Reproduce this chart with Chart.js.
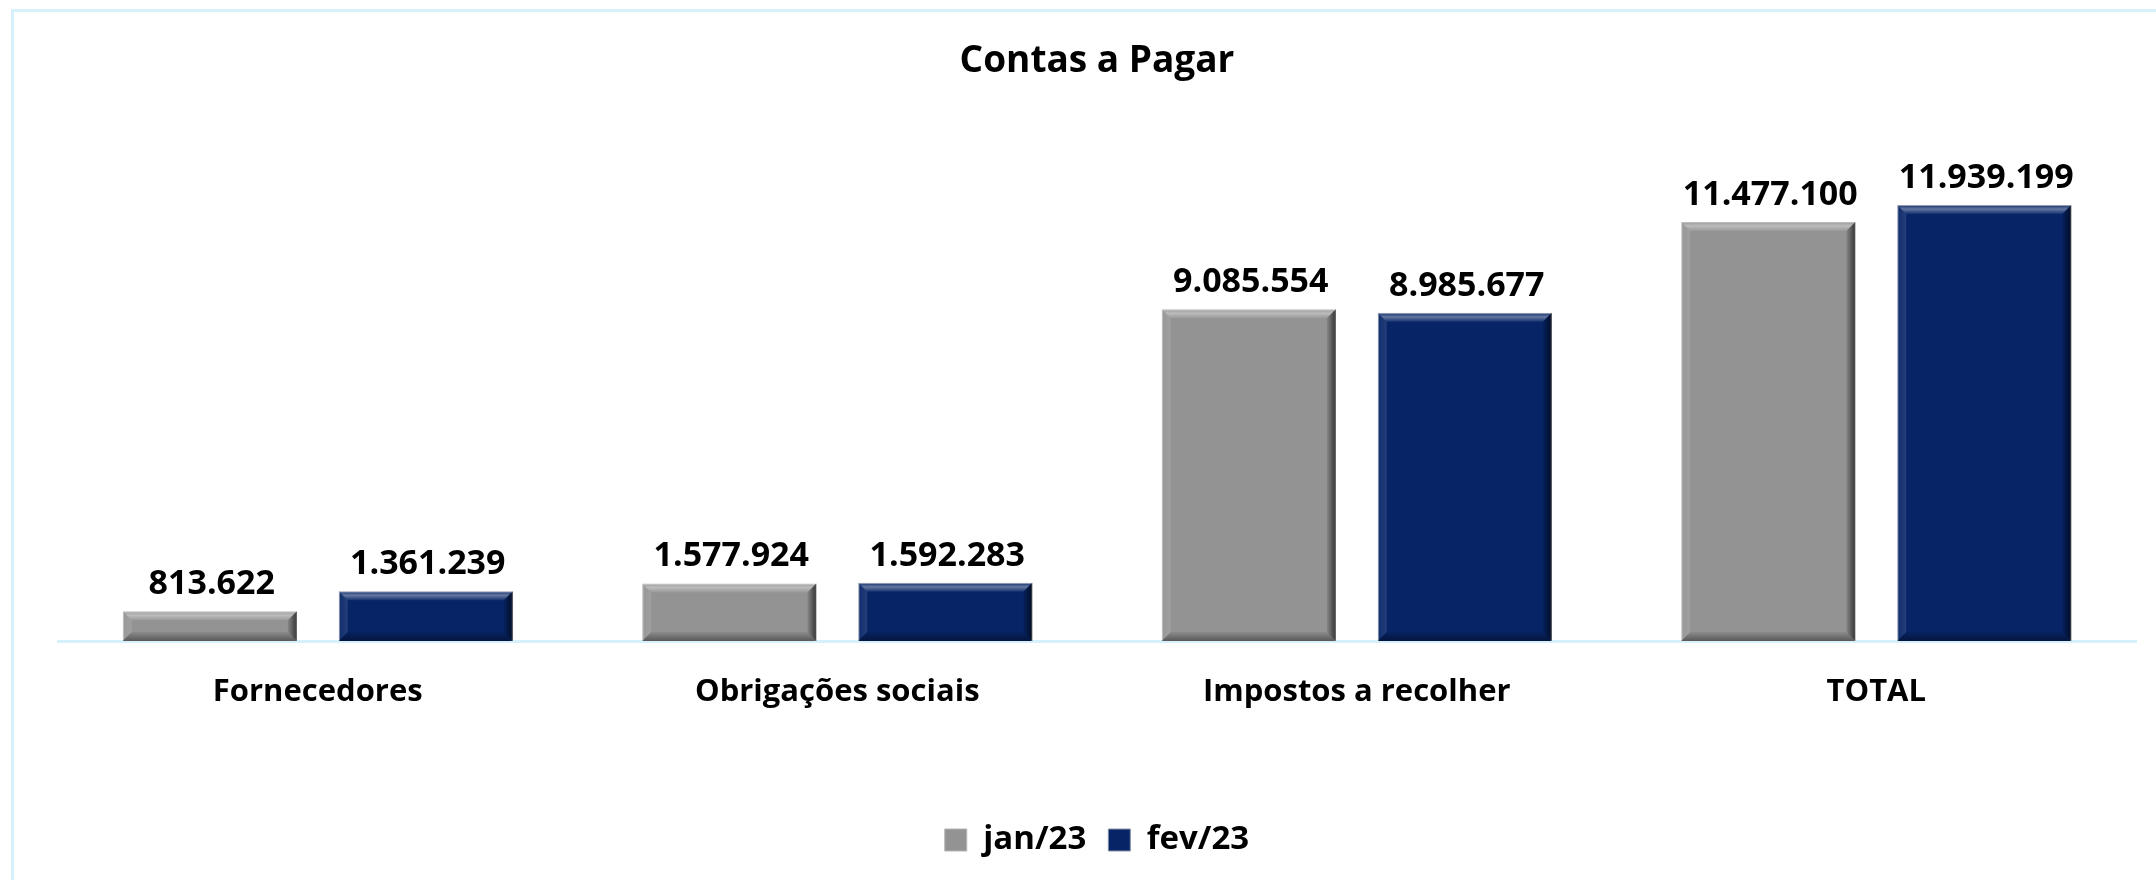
<!DOCTYPE html>
<html>
<head>
<meta charset="utf-8">
<script src="https://cdn.jsdelivr.net/npm/chart.js@4.4.1/dist/chart.umd.min.js"></script>
<style>
  html, body { margin: 0; padding: 0; background: #ffffff; }
  #wrap { position: relative; width: 2156px; height: 880px; overflow: hidden; }
  #frame { position: absolute; left: 11px; top: 9px; width: 2200px; height: 1000px;
           border-left: 3px solid #d6f1fb; border-top: 3px solid #d6f1fb; box-sizing: border-box; }
  canvas { position: absolute; left: 0; top: 0; }
</style>
</head>
<body>
<div id="wrap">
  <div id="frame"></div>
  <canvas id="c" width="2156" height="880"></canvas>
</div>
<script>
const titleText = 'Contas a Pagar';
const categories = ['Fornecedores', 'Obrigações sociais', 'Impostos a recolher', 'TOTAL'];
const seriesLabels = ['jan/23', 'fev/23'];
const jan23 = [813622, 1577924, 9085554, 11477100];
const fev23 = [1361239, 1592283, 8985677, 11939199];

const FONT = '"Open Sans", Lato, sans-serif';

function fmt(v) {
  return String(Math.round(v)).replace(/\B(?=(\d{3})+(?!\d))/g, '.');
}

const bevelPlugin = {
  id: 'bevel',
  afterDatasetsDraw(chart) {
    const ctx = chart.ctx;
    chart.data.datasets.forEach((ds, di) => {
      const meta = chart.getDatasetMeta(di);
      meta.data.forEach(bar => {
        const l = bar.x - bar.width / 2, r = bar.x + bar.width / 2;
        const t = Math.min(bar.y, bar.base), b = Math.max(bar.y, bar.base);
        const h = b - t;
        const e = Math.min(9, h / 3);
        ctx.save();
        let g = ctx.createLinearGradient(0, t, 0, t + e);
        g.addColorStop(0, 'rgba(255,255,255,0.05)');
        g.addColorStop(0.45, 'rgba(255,255,255,0.38)');
        g.addColorStop(1, 'rgba(255,255,255,0.06)');
        ctx.fillStyle = g;
        ctx.beginPath();
        ctx.moveTo(l, t); ctx.lineTo(r, t); ctx.lineTo(r - e, t + e); ctx.lineTo(l + e, t + e); ctx.closePath();
        ctx.fill();
        g = ctx.createLinearGradient(l, 0, l + e, 0);
        g.addColorStop(0, 'rgba(255,255,255,0.04)');
        g.addColorStop(1, 'rgba(255,255,255,0.12)');
        ctx.fillStyle = g;
        ctx.beginPath();
        ctx.moveTo(l, t); ctx.lineTo(l + e, t + e); ctx.lineTo(l + e, b - e); ctx.lineTo(l, b); ctx.closePath();
        ctx.fill();
        g = ctx.createLinearGradient(r - e, 0, r, 0);
        g.addColorStop(0, 'rgba(0,0,0,0.08)');
        g.addColorStop(1, 'rgba(0,0,0,0.65)');
        ctx.fillStyle = g;
        ctx.beginPath();
        ctx.moveTo(r, t); ctx.lineTo(r, b); ctx.lineTo(r - e, b - e); ctx.lineTo(r - e, t + e); ctx.closePath();
        ctx.fill();
        g = ctx.createLinearGradient(0, b - e, 0, b);
        g.addColorStop(0, 'rgba(0,0,0,0.05)');
        g.addColorStop(1, 'rgba(0,0,0,0.4)');
        ctx.fillStyle = g;
        ctx.beginPath();
        ctx.moveTo(l, b); ctx.lineTo(r, b); ctx.lineTo(r - e, b - e); ctx.lineTo(l + e, b - e); ctx.closePath();
        ctx.fill();
        ctx.restore();
      });
    });
  }
};

const valueLabels = {
  id: 'valueLabels',
  afterDatasetsDraw(chart) {
    const ctx = chart.ctx;
    ctx.save();
    ctx.font = 'bold 34px ' + FONT;
    ctx.fillStyle = '#000000';
    ctx.textAlign = 'center';
    ctx.textBaseline = 'alphabetic';
    chart.data.datasets.forEach((ds, di) => {
      const meta = chart.getDatasetMeta(di);
      meta.data.forEach((bar, i) => {
        ctx.fillText(fmt(ds.data[i]), bar.x + 2, bar.y - 17);
      });
    });
    ctx.restore();
  }
};

new Chart(document.getElementById('c'), {
  type: 'bar',
  data: {
    labels: categories,
    datasets: [
      { label: seriesLabels[0], data: jan23, backgroundColor: '#939393', borderColor: '#b4b4b4', borderWidth: 1 },
      { label: seriesLabels[1], data: fev23, backgroundColor: '#062466', borderColor: '#8a94a8', borderWidth: 1 }
    ]
  },
  options: {
    responsive: false,
    animation: false,
    layout: { padding: { left: 58, right: 20, top: 0, bottom: 13.5 } },
    datasets: { bar: { categoryPercentage: 0.8316, barPercentage: 0.806 } },
    scales: {
      x: {
        grid: { display: false },
        border: { display: true, color: '#d6f1fb', width: 3 },
        ticks: { color: '#000000', font: { family: FONT, size: 31, weight: 'bold' }, padding: 25, maxRotation: 0 },
        afterFit(scale) { scale.height = 160.5; }
      },
      y: { display: false, min: 0, max: 13900000 }
    },
    plugins: {
      title: {
        display: true, text: titleText, color: '#000000',
        font: { family: FONT, size: 37, weight: 'bold' },
        padding: { top: 39, bottom: 50 }
      },
      legend: {
        display: true, position: 'bottom',
        labels: { color: '#000000', font: { family: FONT, size: 33, weight: 'bold' }, boxWidth: 22, boxHeight: 22, padding: 22 }
      },
      tooltip: { enabled: false }
    }
  },
  plugins: [bevelPlugin, valueLabels]
});
</script>
</body>
</html>
